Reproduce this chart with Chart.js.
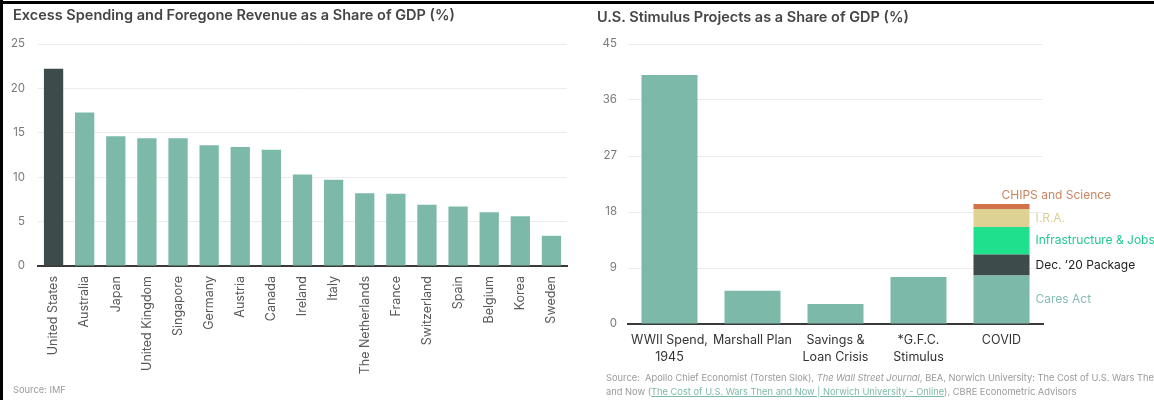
<!DOCTYPE html>
<html>
<head>
<meta charset="utf-8">
<script src="https://cdn.jsdelivr.net/npm/chart.js@4/dist/chart.umd.min.js"></script>
<style>
  body { margin: 0; background: #fff; width: 1154px; height: 400px; overflow: hidden; position: relative; font-family: Inter, sans-serif; }
  .edge-left { position: absolute; left: 0; top: 0; width: 3px; height: 400px; background: #000; z-index: 2; }
  .edge-top { position: absolute; left: 0; top: 1px; width: 1154px; height: 3px; background: #000; z-index: 2; }
  .title { position: absolute; font-size: 14.5px; font-weight: 600; color: #454545; white-space: nowrap; z-index: 2; }
  .source { position: absolute; font-size: 9.3px; color: #9a9a9a; line-height: 14px; white-space: nowrap; z-index: 2; }
  .source a { color: #7db9a9; text-decoration: underline; }
  .panel { position: absolute; top: 0; height: 400px; }
</style>
</head>
<body>
<div class="edge-top"></div>
<div class="edge-left"></div>

<div class="title" style="left:13px; top:6px;">Excess Spending and Foregone Revenue as a Share of GDP (%)</div>
<div class="title" style="left:597px; top:8px;">U.S. Stimulus Projects as a Share of GDP (%)</div>

<div class="panel" style="left:0; width:580px;"><canvas id="spending"></canvas></div>
<div class="panel" style="left:580px; width:574px;"><canvas id="stimulus"></canvas></div>

<div class="source" style="left:13px; top:383px;">Source: IMF</div>
<div class="source" style="left:606px; top:371px;">Source:&nbsp; Apollo Chief Economist (Torsten Slok), <i>The Wall Street Journal</i>, BEA, Norwich University: The Cost of U.S. Wars Then<br>and Now (<a>The Cost of U.S. Wars Then and Now | Norwich University - Online</a>), CBRE Econometric Advisors</div>

<script>
// left panel: excess spending by country
const countries = ["United States", "Australia", "Japan", "United Kingdom", "Singapore", "Germany", "Austria", "Canada", "Ireland", "Italy", "The Netherlands", "France", "Switzerland", "Spain", "Belgium", "Korea", "Sweden"];
const spendingShare = [22.2, 17.3, 14.6, 14.4, 14.4, 13.6, 13.4, 13.1, 10.3, 9.7, 8.2, 8.15, 6.9, 6.7, 6.05, 5.6, 3.4];
const spendingTicks = [0, 5, 10, 15, 20, 25];

// right panel: stimulus projects
const projects = [["WWII Spend,", "1945"], "Marshall Plan", ["Savings &", "Loan Crisis"], ["*G.F.C.", "Stimulus"], "COVID"];
const pastStimulus = [40, 5.35, 3.2, 7.55, null];
const covidParts = ["Cares Act", "Dec. \u201920 Package", "Infrastructure & Jobs", "I.R.A.", "CHIPS and Science"];
const covidValues = [7.8, 3.35, 4.45, 2.9, 0.8];
const stimulusTicks = [0, 9, 18, 27, 36, 45];

const teal = "#7db9a9";
const slate = "#3e4b4b";
const partColors = [teal, slate, "#1fe08c", "#ddd293", "#d2724c"];
const partTextColors = ["#86bdb0", "#222222", "#22c98c", "#d8cf98", "#c9845f"];

Chart.defaults.font.family = "Inter, sans-serif";
Chart.defaults.animation = false;
Chart.defaults.maintainAspectRatio = false;
Chart.defaults.responsive = true;

new Chart(document.getElementById("spending"), {
  type: "bar",
  data: {
    labels: countries,
    datasets: [{
      data: spendingShare,
      backgroundColor: spendingShare.map((v, i) => (i === 0 ? slate : teal)),
      categoryPercentage: 1,
      barPercentage: 0.62,
    }],
  },
  options: {
    layout: { padding: { top: 44, right: 13, left: 0, bottom: 0 } },
    plugins: { legend: { display: false }, tooltip: { enabled: false } },
    scales: {
      x: {
        grid: { display: false, drawTicks: false },
        border: { display: true, color: "#3a3a3a", width: 2 },
        ticks: { minRotation: 90, maxRotation: 90, autoSkip: false, padding: 10, color: "#5a5a5a", font: { size: 12.5 } },
        afterFit: (scale) => { scale.height = 134; },
      },
      y: {
        min: 0,
        max: 25,
        afterBuildTicks: (scale) => { scale.ticks = spendingTicks.map((v) => ({ value: v })); },
        grid: { color: "#ececec", drawTicks: false },
        border: { display: false },
        ticks: { padding: 13, color: "#7a7a7a", font: { size: 11.5 } },
        afterFit: (scale) => { scale.width = 38; },
      },
    },
  },
});

// writes each COVID segment's name beside its slice of the stack
const partLabels = {
  id: "partLabels",
  afterDatasetsDraw(chart) {
    const ctx = chart.ctx;
    ctx.save();
    ctx.font = "12px Inter, sans-serif";
    ctx.textAlign = "left";
    ctx.textBaseline = "middle";
    covidParts.forEach((name, i) => {
      const bar = chart.getDatasetMeta(i + 1).data[4];
      if (!bar) return;
      ctx.fillStyle = partTextColors[i];
      if (i === covidParts.length - 1) {
        ctx.fillText(name, bar.x, bar.y - 9);
      } else {
        ctx.fillText(name, bar.x + bar.width / 2 + 6, (bar.y + bar.base) / 2);
      }
    });
    ctx.restore();
  },
};

new Chart(document.getElementById("stimulus"), {
  type: "bar",
  data: {
    labels: projects,
    datasets: [
      { label: "Historical", data: pastStimulus, backgroundColor: teal },
      ...covidParts.map((name, i) => ({
        label: name,
        data: [null, null, null, null, covidValues[i]],
        backgroundColor: partColors[i],
      })),
    ].map((ds) => ({ ...ds, categoryPercentage: 1, barPercentage: 0.675 })),
  },
  options: {
    layout: { padding: { top: 44, right: 111, left: 0, bottom: 0 } },
    plugins: { legend: { display: false }, tooltip: { enabled: false } },
    scales: {
      x: {
        stacked: true,
        grid: { display: false, drawTicks: false },
        border: { display: true, color: "#3a3a3a", width: 2 },
        ticks: { maxRotation: 0, autoSkip: false, padding: 8, color: "#333", font: { size: 12.5, lineHeight: 1.35 } },
        afterFit: (scale) => { scale.height = 76; },
      },
      y: {
        stacked: true,
        min: 0,
        max: 45,
        afterBuildTicks: (scale) => { scale.ticks = stimulusTicks.map((v) => ({ value: v })); },
        grid: { color: "#ececec", drawTicks: false },
        border: { display: false },
        ticks: { padding: 11, color: "#7a7a7a", font: { size: 11.5 } },
        afterFit: (scale) => { scale.width = 48; },
      },
    },
  },
  plugins: [partLabels],
});
</script>
</body>
</html>
